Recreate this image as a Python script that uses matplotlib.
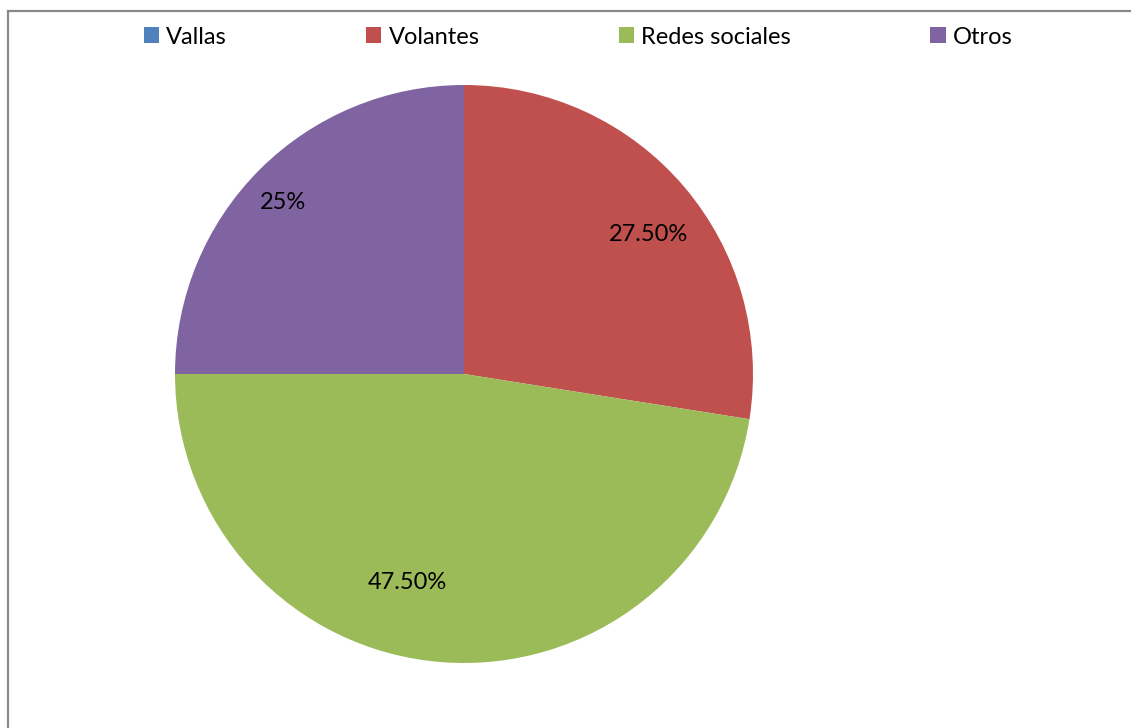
import matplotlib
matplotlib.use("Agg")
import matplotlib.pyplot as plt
from matplotlib.patches import Rectangle

# Survey shares by advertising channel
categories = ["Vallas", "Volantes", "Redes sociales", "Otros"]
shares = [0.0, 27.5, 47.5, 25.0]
value_labels = ["", "27.50%", "47.50%", "25%"]
colors = ["#4F81BD", "#C0504D", "#9BBB59", "#8064A2"]

# where each percentage label sits, as a fraction of the radius
label_pos = [None, (0.640, 0.484), (-0.197, -0.723), (-0.626, 0.595)]

plt.rcParams["font.family"] = ["Lato", "DejaVu Sans"]
FS = 17

W, H = 1131, 728
fig = plt.figure(figsize=(W / 100, H / 100), dpi=100)

# chart border (clipped on the right and bottom)
fig.patches.append(Rectangle((8 / W, -0.1), 1.2, (H - 11) / H + 0.1,
                             transform=fig.transFigure, fill=False,
                             edgecolor="#898989", linewidth=1.6))

ax = fig.add_axes([175 / W, 65 / H, 578 / W, 578 / H])
wedges, _ = ax.pie(shares, colors=colors, startangle=90, counterclock=False,
                   radius=1.0, wedgeprops=dict(linewidth=0))
ax.set_xlim(-1, 1)
ax.set_ylim(-1, 1)
ax.set_aspect("equal")
ax.axis("off")

for lab, pos in zip(value_labels, label_pos):
    if pos is None:
        continue
    ax.text(pos[0], pos[1], lab, ha="center", va="center",
            fontsize=FS, color="black")

fig.legend(wedges, categories, loc="center", bbox_to_anchor=(578 / W, (H - 37) / H),
           ncol=4, frameon=False, fontsize=FS, handlelength=0.65,
           handleheight=0.65, handletextpad=0.3, columnspacing=5.9)

fig.savefig("out.png", dpi=100)
